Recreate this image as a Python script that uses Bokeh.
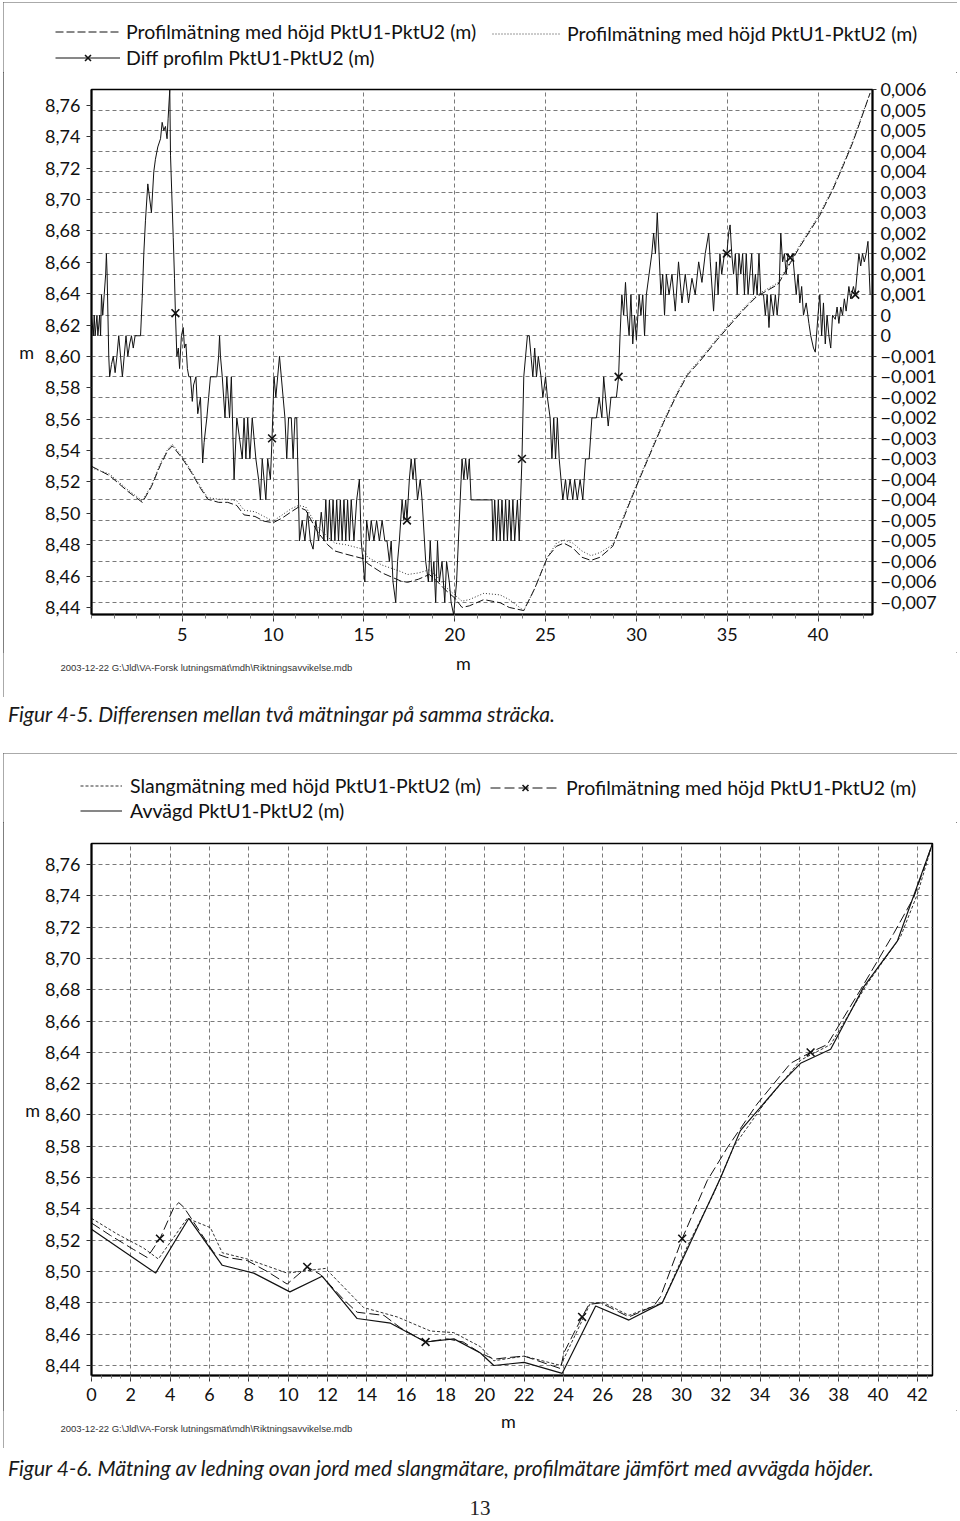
import numpy as np
from bokeh.plotting import figure
from bokeh.models import Range1d, LinearAxis, FixedTicker, Legend, LegendItem, Label, Div, Grid
from bokeh.layouts import column
from bokeh.embed import file_html
from bokeh.resources import INLINE

FONT = "Lato"
INK = "#111111"

# ---------------- Figure 4-5 data ----------------
top_x_ticks = [5, 10, 15, 20, 25, 30, 35, 40]
left_ticks = [8.44, 8.46, 8.48, 8.50, 8.52, 8.54, 8.56, 8.58, 8.60, 8.62, 8.64, 8.66, 8.68, 8.70, 8.72, 8.74, 8.76]
left_tick_labels = ["8,44", "8,46", "8,48", "8,50", "8,52", "8,54", "8,56", "8,58", "8,60", "8,62", "8,64",
                    "8,66", "8,68", "8,70", "8,72", "8,74", "8,76"]
right_ticks = [0.006, 0.0055, 0.005, 0.0045, 0.004, 0.0035, 0.003, 0.0025, 0.002, 0.0015, 0.001, 0.0005, 0.0,
               -0.0005, -0.001, -0.0015, -0.002, -0.0025, -0.003, -0.0035, -0.004, -0.0045, -0.005, -0.0055,
               -0.006, -0.0065]
right_tick_labels = ["0,006", "0,005", "0,005", "0,004", "0,004", "0,003", "0,003", "0,002", "0,002", "0,001",
                     "0,001", "0", "0", "\u22120,001", "\u22120,001", "\u22120,002", "\u22120,002", "\u22120,003",
                     "\u22120,003", "\u22120,004", "\u22120,004", "\u22120,005", "\u22120,005", "\u22120,006",
                     "\u22120,006", "\u22120,007"]

# two profile runs (m)
prof_x = [0, 0.5, 1.0, 1.5, 2.0, 2.8, 3.3, 3.8, 4.2, 4.45, 5.0, 5.5, 6.0, 6.4, 7.0, 7.5, 8.0, 8.4, 9.0, 9.5,
          10.0, 10.5, 11.0, 11.4, 11.8, 12.4, 13.0, 13.4, 14.0, 15.0, 15.2, 16.0, 17.0, 17.4, 18.0, 18.6, 19.0,
          19.5, 20.0, 20.4, 20.8, 21.6, 22.5, 23.0, 23.8, 24.4, 25.1, 25.6, 26.0, 26.5, 27.0, 27.5, 28.0, 28.7,
          29.0, 29.5, 30.1, 30.8, 31.5, 32.2, 32.8, 33.5, 34.4, 35.3, 36.0, 36.6, 37.2, 37.8, 38.5, 39.0, 39.5,
          40.1, 40.8, 41.4, 41.9, 42.3, 42.87]
prof_run1 = [8.529, 8.527, 8.525, 8.520, 8.515, 8.508, 8.518, 8.532, 8.541, 8.544, 8.536, 8.527, 8.517, 8.510,
             8.509, 8.509, 8.508, 8.502, 8.501, 8.498, 8.495, 8.499, 8.503, 8.505, 8.504, 8.492, 8.485, 8.481,
             8.480, 8.477, 8.472, 8.467, 8.463, 8.461, 8.462, 8.464, 8.460, 8.453, 8.448, 8.444, 8.445, 8.449,
             8.448, 8.445, 8.438, 8.452, 8.472, 8.481, 8.483, 8.481, 8.476, 8.473, 8.475, 8.480, 8.489, 8.504,
             8.521, 8.540, 8.559, 8.576, 8.589, 8.598, 8.611, 8.623, 8.632, 8.639, 8.643, 8.647, 8.661, 8.671,
             8.680, 8.691, 8.707, 8.723, 8.737, 8.750, 8.768]
prof_run2 = [8.530, 8.527, 8.524, 8.519, 8.514, 8.507, 8.517, 8.531, 8.540, 8.543, 8.535, 8.526, 8.516, 8.509,
             8.507, 8.507, 8.505, 8.499, 8.498, 8.495, 8.494, 8.497, 8.501, 8.504, 8.502, 8.489, 8.480, 8.476,
             8.474, 8.471, 8.468, 8.462, 8.457, 8.456, 8.458, 8.461, 8.457, 8.451, 8.446, 8.440, 8.441, 8.445,
             8.443, 8.440, 8.438, 8.452, 8.472, 8.479, 8.481, 8.478, 8.472, 8.470, 8.472, 8.479, 8.488, 8.503,
             8.520, 8.539, 8.558, 8.575, 8.588, 8.597, 8.610, 8.622, 8.631, 8.638, 8.642, 8.646, 8.660, 8.670,
             8.679, 8.690, 8.706, 8.722, 8.736, 8.749, 8.768]

# difference between runs, read in millimetres
diff_x = [0.0, 0.1, 0.15, 0.2, 0.3, 0.35, 0.45, 0.5, 0.55, 0.62, 0.7, 0.78, 0.82, 0.86,
          0.95, 1.0, 1.1, 1.2, 1.3, 1.4, 1.5, 1.6, 1.7, 1.8, 1.9, 2.0, 2.1, 2.2, 2.3, 2.4, 2.55, 2.7,
          2.79, 2.88, 2.97, 3.10, 3.30, 3.43, 3.52, 3.65, 3.80, 3.89, 3.98, 4.07, 4.16, 4.22, 4.31, 4.35, 4.50,
          4.57, 4.62,
          4.7, 4.78, 4.85, 4.95, 5.05, 5.12, 5.2, 5.28, 5.36,
          5.45, 5.55, 5.62, 5.75, 5.85, 6.0, 6.12, 6.2, 6.35, 6.45, 6.55,
          6.75, 6.9, 7.0, 7.05, 7.1, 7.2,
          7.35, 7.45, 7.6, 7.7, 7.85, 8.0,
          8.3, 8.4, 8.5, 8.6, 8.72, 8.85, 8.95, 9.05,
          9.2, 9.3, 9.4, 9.5, 9.6, 9.7, 9.85, 9.94,
          10.05, 10.15, 10.25, 10.35, 10.45, 10.55,
          10.65, 10.75, 10.85, 11.0, 11.1, 11.2, 11.3,
          11.45, 11.6, 11.75, 11.9, 12.05, 12.2, 12.35, 12.5, 12.65, 12.8,
          12.9, 13.0, 13.1, 13.2, 13.3, 13.4, 13.5, 13.6, 13.7, 13.8, 13.9, 14.0, 14.1, 14.2, 14.3, 14.45, 14.6,
          14.75, 14.85, 15.05,
          15.15, 15.3, 15.4, 15.55, 15.7, 15.85, 16.0, 16.15, 16.27,
          16.4, 16.5, 16.6, 16.75, 16.85,
          16.95, 17.1, 17.2, 17.3, 17.37,
          17.5, 17.6, 17.7, 17.8, 17.95, 18.1, 18.2,
          18.4, 18.55, 18.65, 18.75, 18.85, 18.95, 19.05, 19.15, 19.3, 19.45, 19.55, 19.7, 19.8,
          19.94, 20.1,
          20.3, 20.4, 20.5, 20.6, 20.7, 20.8, 20.9,
          21.0, 21.9,
          22.05, 22.1, 22.2, 22.3, 22.4, 22.5, 22.6, 22.7, 22.8, 22.9, 23.0, 23.1, 23.2, 23.3, 23.45, 23.55,
          23.7, 23.8,
          23.9, 24.0, 24.1, 24.2, 24.3, 24.4, 24.5, 24.6, 24.75, 24.85, 25.0, 25.1,
          25.25, 25.35, 25.45, 25.55, 25.65, 25.75,
          25.95, 26.1, 26.2, 26.35, 26.5, 26.6, 26.75, 26.9, 27.05, 27.2,
          27.4, 27.55, 27.8,
          27.95, 28.1, 28.2, 28.3, 28.45, 28.6, 28.75,
          28.9, 29.02,
          29.1, 29.2, 29.3, 29.4, 29.5, 29.6, 29.7, 29.8, 29.9, 30.0,
          30.15, 30.25, 30.35, 30.45, 30.55, 30.7,
          30.85, 30.95, 31.05, 31.15,
          31.25, 31.35, 31.45, 31.55, 31.65,
          31.8, 31.96, 32.14, 32.32, 32.51, 32.69, 32.87, 33.06, 33.24, 33.43, 33.61, 33.79, 33.98, 34.07, 34.25,
          34.4, 34.5, 34.6, 34.7, 34.85, 34.98, 35.08, 35.16, 35.25, 35.35,
          35.45, 35.55, 35.65, 35.75, 35.85, 35.95, 36.05, 36.15, 36.25, 36.35, 36.45, 36.55, 36.65, 36.75, 36.85,
          37.0, 37.1, 37.2, 37.3, 37.4, 37.55, 37.65, 37.75,
          37.85, 37.95, 38.05, 38.15, 38.25, 38.35, 38.47, 38.6,
          38.7, 38.8, 38.9, 39.0, 39.1, 39.2, 39.35, 39.5, 39.6,
          39.75, 39.85,
          40.0, 40.1, 40.2, 40.3, 40.4, 40.5, 40.6, 40.7, 40.8,
          40.95, 41.05, 41.15, 41.25, 41.35, 41.45, 41.55,
          41.7, 41.8, 41.95, 42.05,
          42.15, 42.25, 42.35, 42.45, 42.55, 42.65, 42.75, 42.87]
diff_mm = [0.5, 0.0, 0.5, 0.0, 0.5, 0.0, 0.5, 0.0, 1.0, 0.5, 1.0, 1.5, 2.0, 1.5,
           -0.5, -1.0, -0.7, -0.5, -0.9, -0.5, 0.0, -0.5, -1.0, -0.5, 0.0, -0.5, -0.2, 0.0, -0.3, 0.0, 0.0, 0.0,
           0.9, 2.0, 2.8, 3.7, 3.0, 4.0, 4.3, 4.6, 4.8, 5.2, 5.0, 5.1, 4.8, 5.3, 6.0, 4.4, 2.4, 1.4, 0.55,
           -0.5, -0.3, -0.8, 0.0, 0.2, -0.3, -0.2, -0.8, -1.0,
           -1.0, -1.6, -1.2, -1.0, -1.9, -1.5, -3.1, -2.6, -2.0, -1.5, -1.0,
           -1.0, -1.0, -0.5, 0.0, -0.5, -1.0,
           -2.0, -1.0, -2.0, -1.0, -3.5, -2.0,
           -3.0, -2.0, -3.0, -2.0, -3.0, -2.0, -2.5, -3.0,
           -3.5, -4.0, -3.0, -3.5, -4.0, -3.0, -3.5, -2.5,
           -1.0, -1.5, -1.0, -0.5, -1.0, -1.5,
           -2.0, -3.0, -2.0, -2.0, -3.0, -2.0, -2.0,
           -5.0, -4.5, -5.0, -4.3, -5.0, -5.2, -4.5, -5.0, -4.3, -5.0,
           -4.0, -5.0, -4.0, -5.0, -4.0, -5.0, -4.0, -5.0, -4.0, -5.0, -4.0, -5.0, -4.0, -5.0, -4.0, -5.0, -4.0,
           -3.5, -5.0, -6.0,
           -4.5, -5.0, -4.5, -5.0, -4.5, -5.0, -4.5, -5.0, -5.0,
           -5.5, -5.0, -6.0, -6.5, -5.5,
           -5.0, -4.0, -4.5, -4.0, -4.5,
           -3.5, -3.0, -3.5, -3.0, -4.0, -3.5, -4.0,
           -5.5, -6.0, -5.0, -6.0, -5.5, -6.5, -5.0, -6.0, -5.5, -6.5, -5.5, -6.0, -6.5,
           -6.8, -6.0,
           -4.0, -3.0, -3.5, -3.0, -3.5, -3.0, -4.0,
           -4.0, -4.0,
           -4.0, -5.0, -4.0, -5.0, -4.0, -5.0, -4.0, -5.0, -4.0, -5.0, -4.0, -5.0, -4.0, -5.0, -4.0, -5.0,
           -3.0, -1.0,
           -0.5, 0.0, 0.0, -0.5, -1.0, -0.3, -1.0, -0.5, -1.0, -1.5, -1.0, -1.5,
           -2.0, -3.0, -2.0, -3.0, -2.0, -3.0,
           -4.0, -3.5, -4.0, -3.5, -4.0, -3.5, -4.0, -3.5, -4.0, -3.0,
           -3.0, -2.0, -2.0,
           -1.5, -2.0, -1.0, -1.5, -2.2, -1.5, -1.5,
           -1.5, -1.0,
           0.0, 1.0, 0.5, 1.3, 0.5, 0.0, 1.0, -0.2, 0.5, -0.1,
           1.0, 0.5, 1.0, 0.0, 1.0, 1.5,
           2.0, 2.5, 2.0, 3.0,
           2.0, 1.0, 1.5, 0.5, 1.5,
           1.0, 1.5, 0.6, 1.8, 0.8, 1.5, 0.8, 1.4, 1.0, 1.8, 1.3, 2.0, 2.5, 1.8, 0.6,
           1.8, 1.0, 2.0, 1.5, 2.0, 2.0, 2.5, 2.7, 2.0, 1.5,
           2.0, 1.0, 2.0, 1.5, 2.0, 1.0, 2.0, 1.0, 1.5, 2.0, 1.0, 1.5, 1.0, 2.0, 1.0,
           1.0, 0.5, 1.0, 0.2, 1.0, 0.5, 1.0, 0.5,
           1.0, 2.5, 1.8, 2.0, 1.5, 2.0, 1.9, 2.0,
           1.5, 1.0, 1.5, 0.8, 1.2, 0.5, 0.8, 0.3, 0.0,
           -0.3, -0.4,
           0.5, 1.0, 0.0, 0.8, -0.2, 0.5, 0.0, -0.3, 0.5,
           0.4, 0.7, 0.3, 0.7, 0.5, 0.9, 0.6,
           1.2, 0.9, 1.2, 1.0,
           1.5, 2.0, 1.7, 2.0, 1.8, 2.0, 2.3, 1.0]
diff_mark_x = [4.62, 9.94, 17.37, 23.7, 29.02, 34.98, 38.47, 42.05]
diff_mark_mm = [0.55, -2.5, -4.5, -3.0, -1.0, 2.0, 1.9, 1.0]

# ---------------- Figure 4-6 data ----------------
bot_x_ticks = [0, 2, 4, 6, 8, 10, 12, 14, 16, 18, 20, 22, 24, 26, 28, 30, 32, 34, 36, 38, 40, 42]
slang_x = [0, 1.3, 2.65, 3.4, 4.87, 6.05, 6.65, 7.92, 9.95, 11.9, 13.84, 15.55, 17.24, 18.42, 19.78, 20.46, 22.0,
           23.86, 25.38, 26.06, 27.33, 28.6, 29.03, 30.3, 31.65, 32.67, 34.2, 36.06, 37.59, 39.46, 41.15, 42.0, 42.76]
slang_y = [8.534, 8.524, 8.515, 8.508, 8.534, 8.528, 8.512, 8.508, 8.499, 8.502, 8.477, 8.471, 8.462, 8.461, 8.452,
           8.443, 8.446, 8.440, 8.480, 8.480, 8.472, 8.478, 8.480, 8.516, 8.550, 8.580, 8.607, 8.635, 8.645, 8.684,
           8.714, 8.741, 8.773]
avv_x = [0, 3.26, 4.95, 6.65, 8.25, 10.09, 11.73, 13.51, 15.21, 16.99, 18.43, 19.78, 20.46, 22.0, 23.94, 25.64,
         27.33, 29.03, 32.0, 33.0, 35.05, 36.06, 37.59, 39.28, 40.98, 42.76]
avv_y = [8.527, 8.499, 8.534, 8.504, 8.499, 8.487, 8.497, 8.470, 8.467, 8.455, 8.457, 8.448, 8.440, 8.442, 8.435,
         8.478, 8.469, 8.480, 8.560, 8.590, 8.620, 8.633, 8.642, 8.682, 8.711, 8.773]
profb_x = [0, 0.97, 2.15, 2.83, 3.48, 4.19, 4.44, 4.7, 6.22, 6.88, 7.92, 8.94, 9.95, 10.97, 11.65, 12.83, 13.51,
           14.87, 15.72, 16.99, 18.09, 18.9, 19.78, 20.46, 21.14, 22.0, 23.86, 24.02, 24.95, 25.3, 25.9, 27.33,
           28.6, 28.94, 30.04, 31.31, 32.33, 33.85, 35.55, 36.57, 37.42, 39.11, 40.8, 41.82, 42.76]
profb_y = [8.531, 8.523, 8.514, 8.509, 8.521, 8.541, 8.544, 8.541, 8.512, 8.509, 8.507, 8.500, 8.492, 8.503, 8.498,
           8.482, 8.474, 8.472, 8.464, 8.455, 8.457, 8.455, 8.448, 8.444, 8.445, 8.446, 8.438, 8.448, 8.471, 8.479,
           8.480, 8.471, 8.478, 8.484, 8.521, 8.558, 8.579, 8.607, 8.633, 8.640, 8.645, 8.680, 8.716, 8.739, 8.773]
profb_mark_x = [3.48, 10.97, 16.99, 24.95, 30.04, 36.57]
profb_mark_y = [8.521, 8.503, 8.455, 8.471, 8.521, 8.640]

FOOTER = "2003-12-22 G:\\Jld\\VA-Forsk lutningsm\u00e4t\\mdh\\Riktningsavvikelse.mdb"
CAP1 = "Figur 4-5. Differensen mellan två mätningar på samma sträcka."
CAP2 = "Figur 4-6. Mätning av ledning ovan jord med slangmätare, profilmätare jämfört med avvägda höjder."
LBL_PROF = "Profilmätning med höjd PktU1-PktU2 (m)"
LBL_DIFF = "Diff profilm PktU1-PktU2 (m)"
LBL_SLANG = "Slangmätning med höjd PktU1-PktU2 (m)"
LBL_AVV = "Avvägd PktU1-PktU2 (m)"

diff_m = [v / 1000.0 for v in diff_mm]
diff_mark_m = [v / 1000.0 for v in diff_mark_mm]

W = 954
LEG_FS = "19.5px"

# line styles
S_DASH = dict(line_color=INK, line_width=1, line_dash="8 3")
S_DOT = dict(line_color="#333333", line_width=1, line_dash="1 2")
S_SOLID = dict(line_color=INK, line_width=1)
S_SLANG = dict(line_color="#333333", line_width=1, line_dash="3 2")
S_AVV = dict(line_color=INK, line_width=1.2)
S_PROFB = dict(line_color=INK, line_width=1, line_dash="10 4")
S_MARK = dict(marker="x", size=11, line_color=INK, line_width=1.6)


def style_axis(ax):
    ax.major_label_text_font = FONT
    ax.major_label_text_font_size = "18px"
    ax.major_label_text_color = INK
    ax.axis_line_color = "#000000"
    ax.axis_line_width = 2
    ax.major_tick_line_color = "#333333"
    ax.minor_tick_line_color = "#777777"
    ax.major_tick_in = 0
    ax.minor_tick_in = 0
    ax.axis_label_text_font = FONT
    ax.axis_label_text_font_size = "18px"
    ax.axis_label_text_font_style = "normal"
    ax.axis_label_text_color = INK


def style_grid(g):
    g.grid_line_color = "#7a7a7a"
    g.grid_line_dash = "4 3"
    g.grid_line_width = 1


def blank_fig(h):
    # a strip of the framed box (legend row / footer row); its ranges lie outside every series,
    # so the series added here only serve as legend sources
    f = figure(width=W, height=h, x_range=Range1d(-2, -1), y_range=Range1d(-2, -1), x_axis_type=None,
               y_axis_type=None, output_backend="svg", toolbar_location=None, tools="", min_border=0,
               title=None)
    f.outline_line_color = None
    if "frame_align" in f.properties():
        f.frame_align = False
    return f


def legend(items, loc, gw, gap, standoff):
    return Legend(items=items, location=loc, orientation="vertical", glyph_width=gw, glyph_height=21,
                  label_height=21, spacing=gap, label_standoff=standoff, padding=0, margin=0,
                  border_line_alpha=0, background_fill_alpha=0, label_text_font=FONT,
                  label_text_font_size=LEG_FS, label_text_color=INK)


def text_label(x, y, text, font, size, align="left", color=INK):
    return Label(x=x, y=y, x_units="screen", y_units="screen", text=text, text_font=font,
                 text_font_size=size, text_color=color, text_align=align, text_baseline="middle")


frame_style = {"outline": "1px solid #555555", "outline-offset": "-1px"}

# ================= Figure 4-5 =================
leg1 = blank_fig(70)
d_dash = leg1.line(prof_x, prof_run2, **S_DASH)
d_dot = leg1.line(prof_x, prof_run1, **S_DOT)
d_diff = leg1.line(diff_x, diff_m, **S_SOLID)
d_diffm = leg1.scatter(diff_mark_x, diff_mark_m, **S_MARK)
leg1.add_layout(legend([LegendItem(label=LBL_PROF, renderers=[d_dash]),
                        LegendItem(label=LBL_DIFF, renderers=[d_diff, d_diffm])], (52, 3.5), 65, 3, 6))
leg1.add_layout(legend([LegendItem(label=LBL_PROF, renderers=[d_dot])], (489, 27.5), 68, 3, 7))

p1 = figure(width=W, height=580, x_range=Range1d(0, 43.0), y_range=Range1d(8.4355, 8.7702),
            output_backend="svg", toolbar_location=None, tools="", title=None,
            min_border_left=88, min_border_right=85, min_border_top=17, min_border_bottom=38)
p1.extra_y_ranges = {"diff": Range1d(-0.006792, 0.006)}
p1.outline_line_color = "#000000"
p1.outline_line_width = 1.5

xa = p1.xaxis[0]
style_axis(xa)
xa.ticker = FixedTicker(ticks=top_x_ticks, minor_ticks=list(np.arange(0, 43.01, 1.25)))
xa.major_tick_out = 7
xa.minor_tick_out = 4
xa.major_label_standoff = 6

ya = p1.yaxis[0]
style_axis(ya)
ya.ticker = FixedTicker(ticks=left_ticks)
ya.major_label_overrides = {t: s for t, s in zip(left_ticks, left_tick_labels)}
ya.major_tick_out = 5
ya.major_label_standoff = 6
ya.axis_label = "m"
ya.axis_label_standoff = 8
if "axis_label_orientation" in ya.properties():
    ya.axis_label_orientation = "horizontal"

ra = LinearAxis(y_range_name="diff")
style_axis(ra)
ra.ticker = FixedTicker(ticks=right_ticks)
ra.major_label_overrides = {t: s for t, s in zip(right_ticks, right_tick_labels)}
ra.major_tick_out = 4
ra.major_label_standoff = 4
p1.add_layout(ra, "right")

p1.xgrid[0].ticker = FixedTicker(ticks=top_x_ticks)
style_grid(p1.xgrid[0])
p1.ygrid[0].visible = False
g_r = Grid(dimension=1, ticker=FixedTicker(ticks=right_ticks), y_range_name="diff")
style_grid(g_r)
p1.add_layout(g_r)

p1.line(prof_x, prof_run2, **S_DASH)
p1.line(prof_x, prof_run1, **S_DOT)
p1.line(diff_x, diff_m, y_range_name="diff", **S_SOLID)
p1.scatter(diff_mark_x, diff_mark_m, y_range_name="diff", **S_MARK)

foot1 = blank_fig(45)
foot1.add_layout(text_label(460, 35, "m", FONT, "18px", "center"))
foot1.add_layout(text_label(57, 30, FOOTER, "Liberation Sans", "9.5px", color="#333333"))

box1 = column(leg1, p1, foot1, spacing=0, margin=(2, 0, 0, 3), styles=frame_style)

# ================= Figure 4-6 =================
leg2 = blank_fig(69)
d_slang = leg2.line(slang_x, slang_y, **S_SLANG)
d_avv = leg2.line(avv_x, avv_y, **S_AVV)
d_prof = leg2.line(profb_x, profb_y, **S_PROFB)
d_profm = leg2.scatter(profb_mark_x, profb_mark_y, **S_MARK)
leg2.add_layout(legend([LegendItem(label=LBL_SLANG, renderers=[d_slang]),
                        LegendItem(label=LBL_AVV, renderers=[d_avv])], (77, 0.5), 42, 2, 8))
leg2.add_layout(legend([LegendItem(label=LBL_PROF, renderers=[d_prof, d_profm])], (487, 23.5), 70, 2, 6))

p2 = figure(width=W, height=588, x_range=Range1d(0, 42.77), y_range=Range1d(8.4336, 8.7734),
            output_backend="svg", toolbar_location=None, tools="", title=None,
            min_border_left=88, min_border_right=25, min_border_top=21, min_border_bottom=35)
p2.outline_line_color = "#000000"
p2.outline_line_width = 1.5

xb = p2.xaxis[0]
style_axis(xb)
xb.ticker = FixedTicker(ticks=bot_x_ticks, minor_ticks=list(np.arange(0, 42.8, 0.5)))
xb.major_tick_out = 6
xb.minor_tick_out = 3
xb.major_label_standoff = 6

yb = p2.yaxis[0]
style_axis(yb)
yb.ticker = FixedTicker(ticks=left_ticks)
yb.major_label_overrides = {t: s for t, s in zip(left_ticks, left_tick_labels)}
yb.major_tick_out = 5
yb.major_label_standoff = 6
yb.axis_label = "m"
yb.axis_label_standoff = 2
if "axis_label_orientation" in yb.properties():
    yb.axis_label_orientation = "horizontal"

p2.xgrid[0].ticker = FixedTicker(ticks=bot_x_ticks)
p2.ygrid[0].ticker = FixedTicker(ticks=left_ticks)
style_grid(p2.xgrid[0])
style_grid(p2.ygrid[0])

p2.line(slang_x, slang_y, **S_SLANG)
p2.line(avv_x, avv_y, **S_AVV)
p2.line(profb_x, profb_y, **S_PROFB)
p2.scatter(profb_mark_x, profb_mark_y, **S_MARK)

foot2 = blank_fig(38)
foot2.add_layout(text_label(505, 28, "m", FONT, "18px", "center"))
foot2.add_layout(text_label(57, 20, FOOTER, "Liberation Sans", "9.5px", color="#333333"))

box2 = column(leg2, p2, foot2, spacing=0, margin=(0, 0, 0, 3), styles=frame_style)

# ================= captions =================
cap_style = ("font-family:Lato;font-style:italic;font-size:21px;line-height:24px;color:#1a1a1a;"
             "white-space:nowrap;")
div1 = Div(text=f'<div style="padding:5px 0 0 8px;{cap_style}">{CAP1}</div>', width=960, height=56,
           margin=0)
div2 = Div(text=(f'<div style="padding:8px 0 0 8px;{cap_style}">{CAP2}</div>'
                 '<div style="width:960px;text-align:center;font-family:\'Liberation Serif\';'
                 'font-size:21px;line-height:24px;margin-top:16px;color:#222;">13</div>'),
           width=960, height=73, margin=0)

layout = column(box1, div1, box2, div2, spacing=0)
open("out.html", "w").write(file_html(layout, INLINE, title="Figur 4-5 och 4-6"))
